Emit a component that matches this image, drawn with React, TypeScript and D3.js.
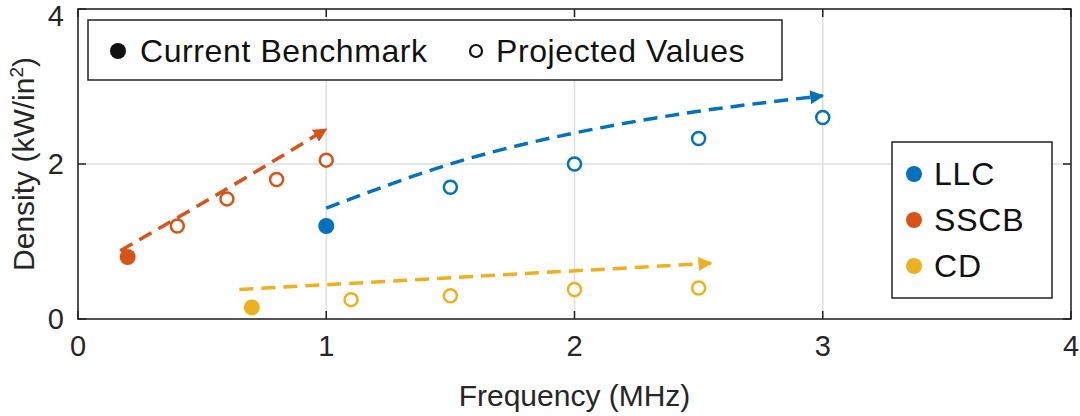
import * as d3 from "d3";
import React from "react";

const xTicks = [0, 1, 2, 3, 4];
const yTicks = [0, 2, 4];

const series = ["LLC", "SSCB", "CD"];
const colors = ["#0072BD", "#D95319", "#EDB120"];

// [frequency MHz, density kW/in^2]
const benchmark: [number, number][] = [[1, 1.2], [0.2, 0.8], [0.7, 0.15]];
const projected: [number, number][][] = [
  [[1.5, 1.7], [2, 2.0], [2.5, 2.33], [3, 2.6]],
  [[0.4, 1.2], [0.6, 1.55], [0.8, 1.8], [1, 2.05]],
  [[1.1, 0.25], [1.5, 0.3], [2, 0.38], [2.5, 0.4]],
];
const trends: [number, number][][] = [
  [[1, 1.43], [1.5, 2.0], [2, 2.4], [2.5, 2.68], [3, 2.88]],
  [[0.17, 0.88], [0.6, 1.68], [1, 2.45]],
  [[0.65, 0.38], [2.55, 0.72]],
];

const W = 1080, H = 416;
const mL = 78, mR = 9, mT = 9, mB = 97;

export default function App() {
  const x = d3.scaleLinear([0, 4], [mL, W - mR]);
  const y = d3.scaleLinear([0, 4], [H - mB, mT]);
  const line = d3.line<[number, number]>().x((d) => x(d[0])).y((d) => y(d[1])).curve(d3.curveNatural);
  const font = "Liberation Sans, Arial, sans-serif";

  return (
    <svg width={W} height={H} style={{ position: "absolute", left: 0, top: 0 }} fontFamily={font}>
      <defs>
        {colors.map((c, i) => (
          <marker key={c} id={`arr${i}`} viewBox="0 0 10 10" refX="9" refY="5" markerWidth="4" markerHeight="4" orient="auto">
            <path d="M0,0 L10,5 L0,10 z" fill={c} />
          </marker>
        ))}
      </defs>
      <rect x={0} y={0} width={W} height={H} fill="white" />
      {/* grid */}
      {xTicks.map((t) => (
        <line key={`gx${t}`} x1={x(t)} x2={x(t)} y1={y(0)} y2={y(4)} stroke="#dedede" strokeWidth={1.5} />
      ))}
      {yTicks.map((t) => (
        <line key={`gy${t}`} x1={x(0)} x2={x(4)} y1={y(t)} y2={y(t)} stroke="#dedede" strokeWidth={1.5} />
      ))}
      {/* trends */}
      {trends.map((d, i) => (
        <path key={`t${i}`} d={line(d) ?? ""} fill="none" stroke={colors[i]} strokeWidth={3.5}
          strokeDasharray="14 8" markerEnd={`url(#arr${i})`} />
      ))}
      {/* projected */}
      {projected.map((pts, i) =>
        pts.map(([a, b]) => (
          <circle key={`p${i}-${a}`} cx={x(a)} cy={y(b)} r={6.5} fill="white" stroke={colors[i]} strokeWidth={2.5} />
        ))
      )}
      {benchmark.map(([a, b], i) => (
        <circle key={`b${i}`} cx={x(a)} cy={y(b)} r={8} fill={colors[i]} />
      ))}
      {/* axes box */}
      <rect x={x(0)} y={y(4)} width={x(4) - x(0)} height={y(0) - y(4)} fill="none" stroke="#222" strokeWidth={1.5} />
      {xTicks.map((t) => (
        <g key={`xt${t}`}>
          <line x1={x(t)} x2={x(t)} y1={y(0)} y2={y(0) - 8} stroke="#222" strokeWidth={1.5} />
          <line x1={x(t)} x2={x(t)} y1={y(4)} y2={y(4) + 8} stroke="#222" strokeWidth={1.5} />
          <text x={x(t)} y={y(0) + 37} textAnchor="middle" fontSize={29} fill="#262626">{t}</text>
        </g>
      ))}
      {yTicks.map((t) => (
        <g key={`yt${t}`}>
          <line x1={x(0)} x2={x(0) + 8} y1={y(t)} y2={y(t)} stroke="#222" strokeWidth={1.5} />
          <line x1={x(4)} x2={x(4) - 8} y1={y(t)} y2={y(t)} stroke="#222" strokeWidth={1.5} />
          <text x={x(0) - 14} y={Math.max(y(t) + 10, 26)} textAnchor="end" fontSize={29} fill="#262626">{t}</text>
        </g>
      ))}
      <text x={(x(0) + x(4)) / 2} y={H - 10} textAnchor="middle" fontSize={30} fill="#262626">Frequency (MHz)</text>
      <text transform={`translate(34,${(y(0) + y(4)) / 2}) rotate(-90)`} textAnchor="middle" fontSize={30} fill="#262626">
        Density (kW/in<tspan dy={-11} fontSize={19}>2</tspan><tspan dy={11}>)</tspan>
      </text>
      {/* top legend */}
      <rect x={88} y={20} width={694} height={60} fill="white" stroke="#222" strokeWidth={1.5} />
      <circle cx={118} cy={51} r={8} fill="#111" />
      <text x={140} y={62} fontSize={32} fill="#111" letterSpacing={0.6}>Current Benchmark</text>
      <circle cx={476} cy={51} r={6} fill="white" stroke="#111" strokeWidth={2.2} />
      <text x={496} y={62} fontSize={32} fill="#111" letterSpacing={0.6}>Projected Values</text>
      {/* series legend */}
      <rect x={892} y={142} width={160} height={156} fill="white" stroke="#222" strokeWidth={1.5} />
      {series.map((s, i) => (
        <g key={s}>
          <circle cx={914} cy={174 + i * 46} r={8} fill={colors[i]} />
          <text x={934} y={185 + i * 46} fontSize={32} fill="#111" letterSpacing={0.8}>{s}</text>
        </g>
      ))}
    </svg>
  );
}
